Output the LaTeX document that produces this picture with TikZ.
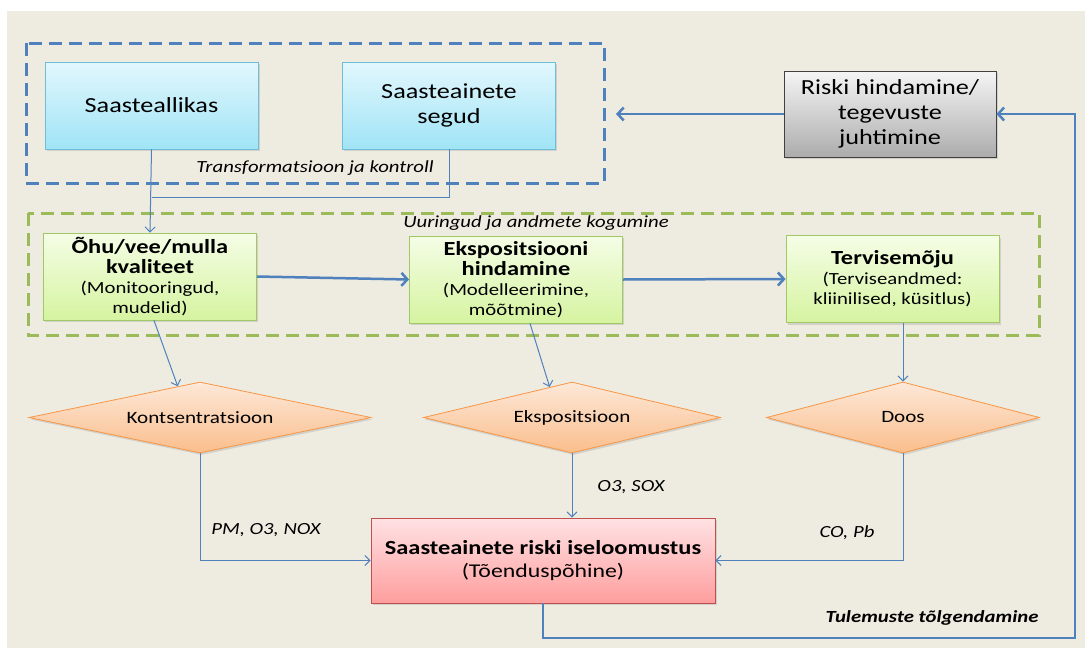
\documentclass[tikz,border=0pt]{standalone}
\usepackage{fontspec}
\setmainfont{Carlito}[FakeStretch=1.22]
\usetikzlibrary{arrows.meta,shapes.geometric,shadows,calc}
\definecolor{bgc}{RGB}{238,235,225}
\definecolor{oblue}{RGB}{79,129,189}
\definecolor{ogreen}{RGB}{155,187,89}
\definecolor{cyanT}{RGB}{226,247,253}
\definecolor{cyanB}{RGB}{160,228,246}
\definecolor{cyanD}{RGB}{110,190,215}
\definecolor{grnT}{RGB}{245,253,230}
\definecolor{grnB}{RGB}{213,244,160}
\definecolor{grnD}{RGB}{160,200,100}
\definecolor{orT}{RGB}{253,232,216}
\definecolor{orB}{RGB}{250,190,140}
\definecolor{orD}{RGB}{247,150,70}
\definecolor{pkT}{RGB}{255,226,228}
\definecolor{pkB}{RGB}{255,158,158}
\definecolor{pkD}{RGB}{192,80,77}
\definecolor{gyT}{RGB}{245,245,245}
\definecolor{gyB}{RGB}{172,172,172}
\definecolor{gyD}{RGB}{64,64,64}
\newcommand{\ttlfont}{\fontsize{20}{22.5}\selectfont\bfseries}
\begin{document}
\begin{tikzpicture}[x=1pt,y=-1pt,
  shadowed/.style={drop shadow={opacity=0.25,shadow xshift=1.5pt,shadow yshift=-2pt}},
  box/.style={rectangle, align=center, inner sep=2pt, text=black, shadowed, line width=0.8pt},
  cyanbox/.style={box, draw=cyanD, top color=cyanT, bottom color=cyanB,
     minimum width=213pt, minimum height=87pt, font=\fontsize{21.5}{25}\selectfont},
  graybox/.style={box, draw=gyD, top color=gyT, bottom color=gyB,
     minimum width=212pt, minimum height=86pt, font=\fontsize{21.5}{25}\selectfont},
  greenbox/.style={box, draw=grnD, top color=grnT, bottom color=grnB,
     minimum width=213pt, minimum height=87pt, font=\fontsize{17}{20}\selectfont},
  pinkbox/.style={box, draw=pkD, top color=pkT, bottom color=pkB,
     minimum width=344pt, minimum height=85pt, font=\fontsize{19.5}{23}\selectfont},
  dia/.style={diamond, draw=orD, top color=orT, bottom color=orB, inner sep=0pt,
     minimum height=71pt, font=\fontsize{17.3}{20}\selectfont, line width=0.8pt, shadowed},
  grp/.style={dash pattern=on 13pt off 7pt, line width=3pt},
  lbl/.style={font=\fontsize{17}{20}\selectfont\itshape, text=black, inner sep=0pt},
  conn/.style={draw=oblue, line width=1pt, -{Straight Barb[length=5pt,width=10pt]}},
  line/.style={draw=oblue, line width=1pt},
  thick conn/.style={draw=oblue, line width=2.5pt, -{Straight Barb[length=6pt,width=13pt]}}
]
\useasboundingbox (0,0) rectangle (1085,648);
\fill[white] (0,0) rectangle (1085,648);
\fill[bgc] (7,11) rectangle (1085,648);

% group frames
\draw[grp, draw=oblue] (26,43) rectangle (604,183);
\draw[grp, draw=ogreen] (28,213) rectangle (1039,335);

% top boxes
\node[cyanbox] (src) at (151.5,105.5) {Saasteallikas};
\node[cyanbox] (mix) at (449,105.5) {Saasteainete\\segud};
\node[graybox] (risk) at (890,114) {Riski hindamine/\\tegevuste\\juhtimine};

% green boxes
\node[greenbox] (q) at (150,276.5) {{\ttlfont Õhu/vee/mulla}\\{\ttlfont kvaliteet}\\(Monitooringud,\\mudelid)};
\node[greenbox] (exp) at (516,279.5) {{\ttlfont Ekspositsiooni}\\{\ttlfont hindamine}\\(Modelleerimine,\\mõõtmine)};
\node[greenbox] (hlth) at (892.5,279) {{\ttlfont Tervisemõju}\\(Terviseandmed:\\kliinilised, küsitlus)};

% diamonds
\node[dia, aspect=4.8, minimum width=342pt] (conc) at (200,417.5) {Kontsentratsioon};
\node[dia, aspect=4.2, minimum width=297pt] (expd) at (572,417.5) {Ekspositsioon};
\node[dia, aspect=3.85, minimum width=273pt] (dose) at (903,417.5) {Doos};

% result box
\node[pinkbox] (char) at (543,560.5) {{\ttlfont Saasteainete riski iseloomustus}\\(Tõenduspõhine)};

% labels
\node[lbl] (tlab) at (315,168) {Transformatsioon ja kontroll};
\node[lbl] (ulab) at (536,223) {Uuringud ja andmete kogumine};
\node[lbl] (l1) at (266,530) {PM, O3, NOX};
\node[lbl] (l2) at (631,487) {O3, SOX};
\node[lbl] (l3) at (847,533) {CO, Pb};
\node[lbl, font=\fontsize{17}{20}\selectfont\bfseries\itshape] (l4) at (932,618) {Tulemuste tõlgendamine};

% connectors
\coordinate (j) at (src.south |- 0,197);
\draw[conn] (src.south) -- (q.north);
\draw[line] (mix.south) |- (j);
\draw[thick conn] (q.east) -- (exp.west);
\draw[thick conn] (exp.east) -- (hlth.west);
\draw[conn] ([xshift=4pt]q.south) -- ($(conc.north)!0.13!(conc.west)$);
\draw[conn] ([xshift=14pt]exp.south) -- ($(expd.north)!0.15!(expd.west)$);
\draw[conn] (dose.north |- hlth.south) -- (dose.north);
\draw[conn] (conc.south) |- (char.west);
\draw[conn] (expd.south) -- (expd.south |- char.north);
\draw[conn] (dose.south) |- (char.east);
\coordinate (fb) at (1075,638);
\coordinate (fbend) at (616,114);
\draw[thick conn] (char.south) |- (fb) |- (risk.east);
\draw[thick conn] (risk.west) -- (fbend);
\end{tikzpicture}
\end{document}
